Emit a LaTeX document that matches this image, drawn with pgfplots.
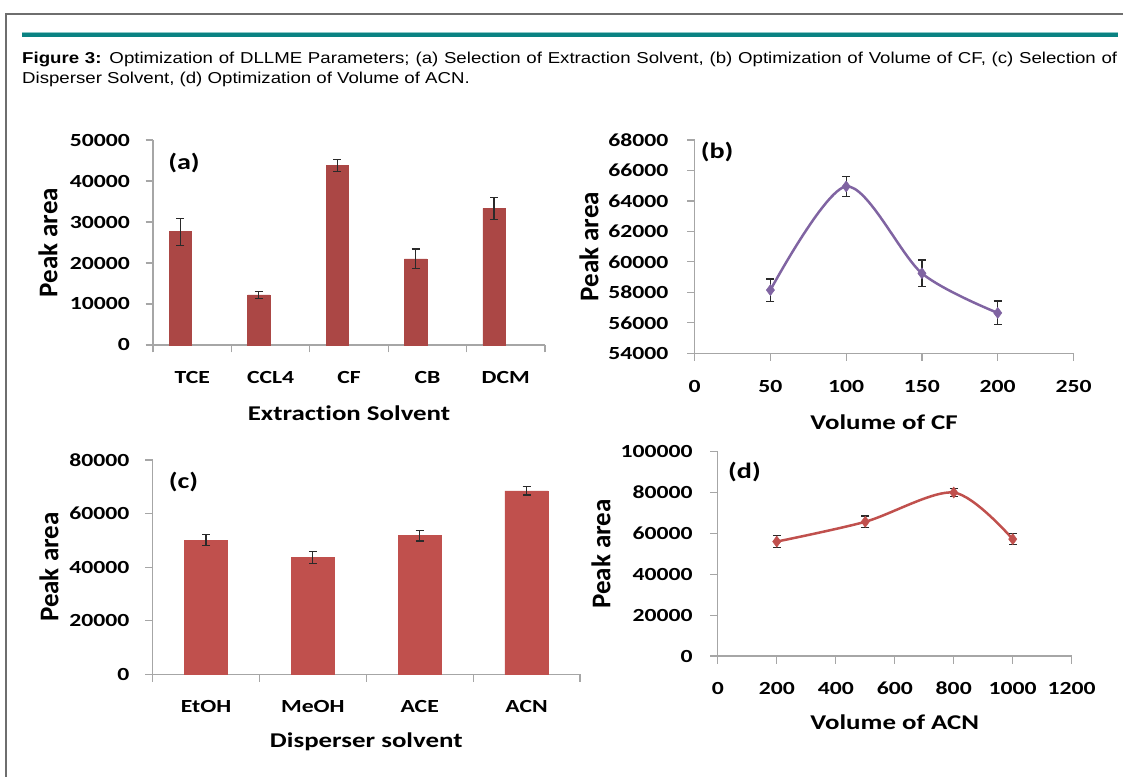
\documentclass[border=0pt]{standalone}
\usepackage{fontspec}
\usepackage{pgfplots}
\pgfplotsset{compat=1.18}
\usepackage{pgfplotstable}
\setmainfont{Carlito}
\newfontfamily\calS{Carlito}[FakeStretch=1.28, Ligatures=NoCommon]
\newfontfamily\calN{Carlito}[Ligatures=NoCommon]
\newfontfamily\arialS{Liberation Sans}[FakeStretch=1.18]
\definecolor{axgray}{HTML}{A6A6A6}
\definecolor{framegray}{HTML}{6E6E6E}
\definecolor{tealA}{HTML}{0A8282}
\definecolor{tealL}{HTML}{8CC8C8}
\definecolor{barA}{HTML}{AB4745}
\definecolor{barC}{HTML}{C0504D}
\definecolor{purp}{HTML}{8064A2}
\definecolor{redl}{HTML}{C0504D}
\definecolor{errc}{HTML}{2A2A2A}

\pgfplotstableread{
x y e
-0.15 27650 3300
0.85 12200 800
1.85 43750 1500
2.85 21000 2400
3.85 33350 2700
}\dataA
\pgfplotstableread{
x y e
50 58150 730
100 64950 680
150 59250 880
200 56650 780
}\dataB
\pgfplotstableread{
x y e
0 50100 2000
1 43700 2200
2 51800 2000
3 68500 1600
}\dataC
\pgfplotstableread{
x y e
200 56000 2800
500 65700 2800
800 80000 2100
1000 57200 2700
}\dataD

\pgfplotsset{
  panel/.style={
    scale only axis, anchor=south west,
    axis x line*=bottom, axis y line*=left,
    axis line style={draw=axgray, line width=1.2pt},
    tick style={draw=axgray, line width=1.2pt},
    tick align=outside, major tick length=7.5pt,
    clip=false,
    ticklabel style={font=\calS\bfseries\fontsize{18.5}{20}\selectfont, text=black},
    /pgf/number format/fixed, /pgf/number format/1000 sep={}, /pgf/number format/assume math mode=true,
    scaled y ticks=false, scaled x ticks=false,
    yticklabel style={anchor=east, inner sep=0pt},
    xticklabel style={anchor=center, inner sep=0pt},
    every axis x label/.style={font=\calS\bfseries\fontsize{21}{24}\selectfont, anchor=center},
    every axis y label/.style={font=\calN\bfseries\fontsize{27}{30}\selectfont, anchor=center, rotate=90},
  },
  ebar/.style={error bars/.cd, y dir=both, y explicit,
    error bar style={errc, line width=1.2pt},
    error mark options={errc, rotate=90, mark size=4pt, line width=1.2pt}},
}

\begin{document}
\begin{tikzpicture}
\path[use as bounding box] (0pt,0pt) rectangle (1123pt,776pt);
\draw[framegray, line width=2pt] (6pt,-2pt) -- (6pt,762pt) -- (1125pt,762pt);
\fill[tealA] (22pt,738.7pt) rectangle (1118pt,743pt);
\fill[tealL] (22pt,743pt) rectangle (1118pt,744pt);
\node[anchor=north west, inner sep=0pt, text width=1095pt, align=justify,
  font=\arialS\fontsize{15.8}{20}\selectfont] at (22pt,724.5pt)
  {{\bfseries Figure 3:} Optimization of DLLME Parameters; (a) Selection of Extraction Solvent, (b) Optimization of Volume of CF, (c) Selection of\linebreak Disperser Solvent, (d) Optimization of Volume of ACN.};

% (a)
\begin{axis}[panel, at={(153pt,431pt)}, width=392pt, height=205pt,
  xmin=-0.5, xmax=4.5, ymin=0, ymax=50000, ytick={0,10000,20000,30000,40000,50000},
  xtick={-0.5,0.5,1.5,2.5,3.5,4.5}, x tick label as interval,
  xticklabels={TCE,CCL4,CF,CB,DCM},
  xticklabel style={yshift=-25.5pt}, yticklabel style={xshift=-15.5pt},
  xlabel={Extraction Solvent}, ylabel={Peak area},
  xlabel style={at={([yshift=-68pt]axis description cs:0.5,0)}},
  ylabel style={at={([xshift=-105pt]axis description cs:0,0.5)}}]
\addplot[ybar, bar width=22.3pt, bar shift=0pt, fill=barA, draw=barA, line width=0.4pt, ebar]
  table[x=x, y=y, y error=e] {\dataA};
\node[font=\calS\bfseries\fontsize{22}{24}\selectfont] at ([xshift=31pt,yshift=-23pt]axis description cs:0,1) {(a)};
\end{axis}

% (b)
\begin{axis}[panel, at={(694.6pt,422.7pt)}, width=378.9pt, height=213.3pt,
  xmin=0, xmax=250, ymin=54000, ymax=68000,
  ytick={54000,56000,58000,60000,62000,64000,66000,68000},
  xtick={0,50,100,150,200,250},
  xticklabel style={yshift=-25.5pt}, yticklabel style={xshift=-18.5pt},
  xlabel={Volume of CF}, ylabel={Peak area},
  xlabel style={at={([yshift=-68.7pt]axis description cs:0.5,0)}},
  ylabel style={at={([xshift=-105.6pt]axis description cs:0,0.5)}}]
\addplot[purp, line width=2.5pt, smooth, mark=diamond*, mark size=5.5pt,
  mark options={solid, fill=purp, draw=purp, line width=0.5pt}, ebar]
  table[x=x, y=y, y error=e] {\dataB};
\node[font=\calS\bfseries\fontsize{22}{24}\selectfont] at ([xshift=22.5pt,yshift=-12pt]axis description cs:0,1) {(b)};
\end{axis}

% (c)
\begin{axis}[panel, at={(152.6pt,101.7pt)}, width=427.4pt, height=214.3pt,
  xmin=-0.5, xmax=3.5, ymin=0, ymax=80000, ytick={0,20000,40000,60000,80000},
  xtick={-0.5,0.5,1.5,2.5,3.5}, x tick label as interval,
  xticklabels={EtOH,MeOH,ACE,ACN},
  xticklabel style={yshift=-24.5pt}, yticklabel style={xshift=-15.5pt},
  xlabel={Disperser solvent}, ylabel={Peak area},
  xlabel style={at={([yshift=-67.7pt]axis description cs:0.5,0)}},
  ylabel style={at={([xshift=-103.6pt]axis description cs:0,0.5)}}]
\addplot[ybar, bar width=43.3pt, bar shift=0pt, fill=barC, draw=barC, line width=0.4pt, ebar]
  table[x=x, y=y, y error=e] {\dataC};
\node[font=\calS\bfseries\fontsize{22}{24}\selectfont] at ([xshift=31pt,yshift=-22pt]axis description cs:0,1) {(c)};
\end{axis}

% (d)
\begin{axis}[panel, at={(717.8pt,120pt)}, width=353.9pt, height=204.3pt,
  xmin=0, xmax=1200, ymin=0, ymax=100000,
  ytick={0,20000,40000,60000,80000,100000},
  xtick={0,200,400,600,800,1000,1200},
  xticklabel style={yshift=-24.5pt}, yticklabel style={xshift=-17.5pt},
  xlabel={Volume of ACN}, ylabel={Peak area},
  xlabel style={at={([yshift=-66pt]axis description cs:0.5,0)}},
  ylabel style={at={([xshift=-116.8pt]axis description cs:0,0.5)}}]
\addplot[redl, line width=2.5pt, smooth, mark=diamond*, mark size=5.5pt,
  mark options={solid, fill=redl, draw=redl, line width=0.5pt}, ebar]
  table[x=x, y=y, y error=e] {\dataD};
\node[font=\calS\bfseries\fontsize{22}{24}\selectfont] at ([xshift=26.7pt,yshift=-20pt]axis description cs:0,1) {(d)};
\end{axis}
\end{tikzpicture}
\end{document}
